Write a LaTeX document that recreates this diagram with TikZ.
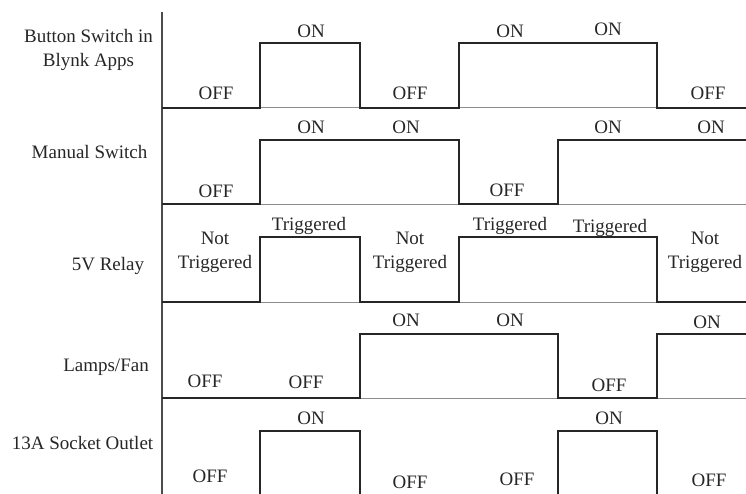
\documentclass[tikz,border=0pt]{standalone}
\usepackage{fontspec}
\setmainfont{Liberation Serif}
\begin{document}
\begin{tikzpicture}[x=1pt,y=-1pt,
  lbl/.style={anchor=base,inner sep=0pt,text=black!85,font=\fontsize{19}{23.5}\selectfont,align=center},
  sig/.style={line width=2pt,black!85,line join=miter},
  sep/.style={line width=1pt,black!45},
  axisline/.style={line width=1.4pt,black!70}]
\useasboundingbox (0,0) rectangle (746,493);
\begin{scope}
\clip (0,0) rectangle (746,493);
% separators
\draw[sep] (162,107.7) coordinate (s1a) -- (746,107.7) coordinate (s1b);
\draw[sep] (162,204) coordinate (s2a) -- (746,204) coordinate (s2b);
\draw[sep] (162,302) coordinate (s3a) -- (746,302) coordinate (s3b);
\draw[sep] (162,398) coordinate (s4a) -- (746,398) coordinate (s4b);
% axis
\draw[axisline] (162,12) coordinate (axtop) -- (162,496) coordinate (axbot);
% signals
\draw[sig] (162,107.7) -- (260,107.7) -- (260,43) -- (360,43) -- (360,107.7) -- (459,107.7) -- (459,43) -- (657,43) -- (657,107.7) -- (747,107.7);
\draw[sig] (162,204) -- (260,204) -- (260,140) -- (459,140) -- (459,204) -- (558,204) -- (558,140) -- (747,140);
\draw[sig] (162,302) -- (260,302) -- (260,237) -- (360,237) -- (360,302) -- (459,302) -- (459,237) -- (657,237) -- (657,302) -- (747,302);
\draw[sig] (162,398) -- (360,398) -- (360,334) -- (558,334) -- (558,398) -- (657,398) -- (657,334) -- (747,334);
\draw[sig] (260,500) -- (260,431) -- (360,431) -- (360,500);
\draw[sig] (558,500) -- (558,431) -- (657,431) -- (657,500);
\end{scope}
% row labels
\node[lbl] (r1) at (88.5,66) {Button Switch in\\Blynk Apps};
\node[lbl] (r2) at (89.5,158) {Manual Switch};
\node[lbl] (r3) at (108,270) {5V Relay};
\node[lbl] (r4) at (106,371) {Lamps/Fan};
\node[lbl] (r5) at (82.5,449) {13A Socket Outlet};
% row 1
\node[lbl] (a1) at (216,99) {OFF};
\node[lbl] (a2) at (311,37) {ON};
\node[lbl] (a3) at (410,99) {OFF};
\node[lbl] (a4) at (510,37) {ON};
\node[lbl] (a5) at (608,35) {ON};
\node[lbl] (a6) at (708,99) {OFF};
% row 2
\node[lbl] (b1) at (216,197) {OFF};
\node[lbl] (b2) at (311,133) {ON};
\node[lbl] (b3) at (406,133) {ON};
\node[lbl] (b4) at (507,196) {OFF};
\node[lbl] (b5) at (608,133) {ON};
\node[lbl] (b6) at (711,133) {ON};
% row 3
\node[lbl] (c1) at (215,268) {Not\\Triggered};
\node[lbl] (c2) at (309,230) {Triggered};
\node[lbl] (c3) at (410,268) {Not\\Triggered};
\node[lbl] (c4) at (510,230) {Triggered};
\node[lbl] (c5) at (610,232) {Triggered};
\node[lbl] (c6) at (705,268) {Not\\Triggered};
% row 4
\node[lbl] (d1) at (205,387) {OFF};
\node[lbl] (d2) at (306,388) {OFF};
\node[lbl] (d3) at (406,326) {ON};
\node[lbl] (d4) at (510,326) {ON};
\node[lbl] (d5) at (609,391) {OFF};
\node[lbl] (d6) at (707,328) {ON};
% row 5
\node[lbl] (e1) at (210,482) {OFF};
\node[lbl] (e2) at (311,424) {ON};
\node[lbl] (e3) at (410,488) {OFF};
\node[lbl] (e4) at (517,485) {OFF};
\node[lbl] (e5) at (609,424) {ON};
\node[lbl] (e6) at (709,486) {OFF};
\end{tikzpicture}
\end{document}
